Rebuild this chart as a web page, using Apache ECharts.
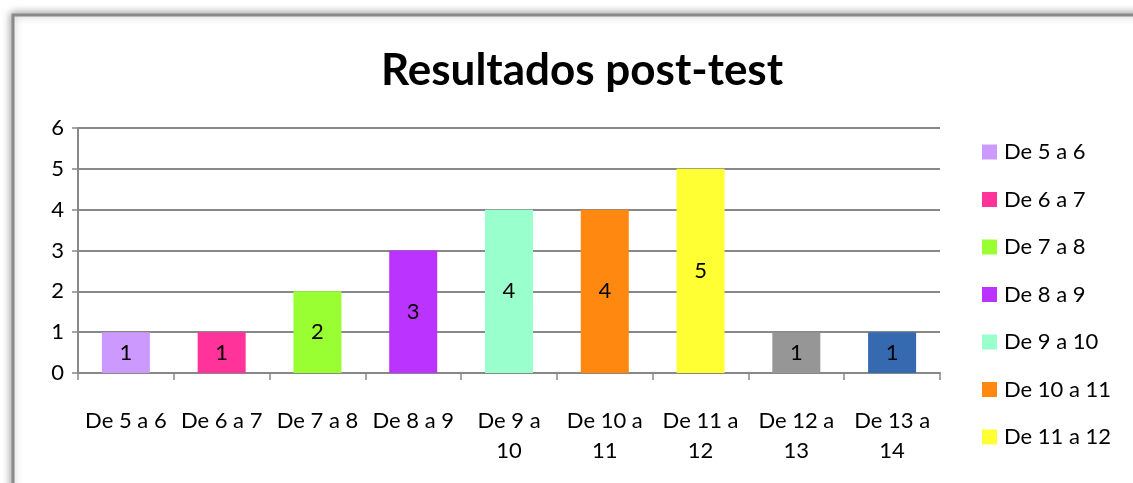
<!DOCTYPE html>
<html>
<head>
<meta charset="utf-8">
<script src="https://cdn.jsdelivr.net/npm/echarts@6/dist/echarts.min.js"></script>
<style>
html,body{margin:0;padding:0;background:#fff;}
#chart{width:1133px;height:483px;}
</style>
</head>
<body>
<div id="chart"></div>
<script>
var categories = ['De 5 a 6','De 6 a 7','De 7 a 8','De 8 a 9','De 9 a 10','De 10 a 11','De 11 a 12','De 12 a 13','De 13 a 14'];
var values = [1, 1, 2, 3, 4, 4, 5, 1, 1];
var colors = ['#CC99FF','#FF3399','#99FF33','#BB33FF','#99FFCC','#FF8811','#FFFF33','#969696','#3569B0'];
var legendShown = categories.slice(0, 7);
var yTicks = [0, 1, 2, 3, 4, 5, 6];

var FONT = 'Lato';

var chart = echarts.init(document.getElementById('chart'));

// one series per category, stacked so every bar sits centred in its slot
var series = [];
for(var i=0;i<categories.length;i++){
	var d = [];
	for(var j=0;j<categories.length;j++){
		d.push(j==i ? values[i] : '-');
	}
	series.push({
		name : categories[i],
		type : 'bar',
		stack : 'all',
		barWidth : 48,
		data : d,
		itemStyle : {color : colors[i]},
		label : {
			show : true,
			position : 'inside',
			color : '#000',
			fontFamily : FONT,
			fontSize : 22
		}
	});
}

var option = {
	animation : false,
	color : colors,
	title : {
		text : 'Resultados post-test',
		left : 577,
		textAlign : 'center',
		top : 44,
		textStyle : {
			fontFamily : FONT,
			fontWeight : 'bold',
			fontSize : 44,
			color : '#000'
		}
	},
	legend : {
		data : legendShown,
		orient : 'vertical',
		left : 982,
		top : 141,
		padding : 0,
		itemWidth : 15,
		itemHeight : 15,
		itemGap : 25.5,
		icon : 'rect',
		textStyle : {
			fontFamily : FONT,
			fontSize : 22,
			color : '#000',
			padding : [0,0,0,2]
		}
	},
	grid : {
		left : 78,
		right : 193,
		top : 128,
		bottom : 110
	},
	xAxis : {
		type : 'category',
		data : categories,
		axisLine : {lineStyle : {color : '#888', width : 2}},
		axisTick : {show : true, length : 7, lineStyle : {color : '#888', width : 1.5}},
		axisLabel : {
			interval : 0,
			margin : 33,
			fontFamily : FONT,
			fontSize : 22,
			color : '#000',
			lineHeight : 30,
			formatter : function(v){
				if(v.length > 8){
					var k = v.lastIndexOf(' ');
					return v.substring(0,k) + '\n' + v.substring(k+1);
				}
				return v;
			}
		}
	},
	yAxis : {
		type : 'value',
		min : yTicks[0],
		max : yTicks[yTicks.length-1],
		interval : 1,
		axisLine : {show : true, lineStyle : {color : '#888', width : 2}},
		axisTick : {show : true, length : 6, lineStyle : {color : '#888', width : 1.5}},
		splitLine : {lineStyle : {color : '#888', width : 2}},
		axisLabel : {
			margin : 14,
			fontFamily : FONT,
			fontSize : 22,
			color : '#000'
		}
	},
	graphic : [
		{
			type : 'rect',
			z : -10,
			shape : {x : 13, y : 15, width : 1140, height : 500},
			style : {
				fill : '#fff',
				stroke : '#8a8a8a',
				lineWidth : 3,
				shadowBlur : 8,
				shadowColor : 'rgba(0,0,0,0.35)',
				shadowOffsetX : -1,
				shadowOffsetY : -1
			}
		}
	],
	series : series
};

chart.setOption(option);
</script>
</body>
</html>
